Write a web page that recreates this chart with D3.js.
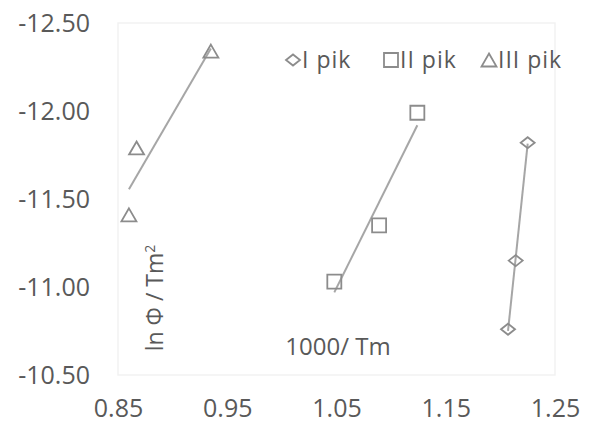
<!DOCTYPE html>
<html>
<head>
<meta charset="utf-8">
<script src="https://cdn.jsdelivr.net/npm/d3@7"></script>
<style>
  body { margin: 0; background: #fff; }
  svg { font-family: "Open Sans", sans-serif; }
</style>
</head>
<body>
<div id="chart"></div>
<script>
const seriesNames = ['I pik', 'II pik', 'III pik'];
const peak1X = [1.207, 1.214, 1.225];
const peak1Y = [-10.76, -11.15, -11.82];
const peak2X = [1.048, 1.089, 1.124];
const peak2Y = [-11.03, -11.35, -11.99];
const peak3X = [0.860, 0.867, 0.935];
const peak3Y = [-11.41, -11.79, -12.34];
const xTicks = [0.85, 0.95, 1.05, 1.15, 1.25];
const yTicks = [-12.5, -12.0, -11.5, -11.0, -10.5];

const width = 606, height = 425;
const margin = { left: 118, right: 51, top: 23, bottom: 50 };

const svg = d3.select('#chart').append('svg')
    .attr('width', width)
    .attr('height', height);

const x = d3.scaleLinear().domain([0.85, 1.25]).range([margin.left, width - margin.right]);
const y = d3.scaleLinear().domain([-12.5, -10.5]).range([margin.top, height - margin.bottom]);

// faint plot border
svg.append('rect')
    .attr('x', x(0.85)).attr('y', y(-12.5))
    .attr('width', x(1.25) - x(0.85)).attr('height', y(-10.5) - y(-12.5))
    .attr('fill', 'none').attr('stroke', '#f2f2f2').attr('stroke-width', 1.5);

const fmt = d => d.toFixed(2);

const yAxis = svg.append('g')
    .attr('transform', `translate(${margin.left - 28},0)`)
    .call(d3.axisLeft(y).tickValues(yTicks).tickFormat(fmt).tickSize(0).tickPadding(0));
const xAxis = svg.append('g')
    .attr('transform', `translate(0,${y(-10.5) + 19})`)
    .call(d3.axisBottom(x).tickValues(xTicks).tickFormat(fmt).tickSize(0).tickPadding(0));
[yAxis, xAxis].forEach(a => {
    a.select('.domain').remove();
    a.selectAll('text')
        .attr('fill', '#595959')
        .style('font-size', '25px')
        .style('font-family', '"Open Sans", sans-serif');
});
xAxis.selectAll('text').attr('dy', '0.9em');

// marker shapes
const diamond = { draw(c, s) { const w = 7, h = 5.5; c.moveTo(-w, 0); c.lineTo(0, -h); c.lineTo(w, 0); c.lineTo(0, h); c.closePath(); } };
const square = { draw(c, s) { const r = 7; c.rect(-r, -r, 2 * r, 2 * r); } };
const triangle = { draw(c, s) { const w = 7.5, h = 6.5; c.moveTo(0, -h); c.lineTo(w, h); c.lineTo(-w, h); c.closePath(); } };

const series = [
    { name: seriesNames[0], xs: peak1X, ys: peak1Y, shape: diamond },
    { name: seriesNames[1], xs: peak2X, ys: peak2Y, shape: square },
    { name: seriesNames[2], xs: peak3X, ys: peak3Y, shape: triangle }
];

function fit(xs, ys) {
    const mx = d3.mean(xs), my = d3.mean(ys);
    const b = d3.sum(xs, (v, i) => (v - mx) * (ys[i] - my)) / d3.sum(xs, v => (v - mx) ** 2);
    return v => my + b * (v - mx);
}

series.forEach(s => {
    const f = fit(s.xs, s.ys);
    const x0 = d3.min(s.xs), x1 = d3.max(s.xs);
    svg.append('line')
        .attr('x1', x(x0)).attr('y1', y(f(x0)))
        .attr('x2', x(x1)).attr('y2', y(f(x1)))
        .attr('stroke', '#a6a6a6').attr('stroke-width', 2);
    svg.append('g').selectAll('path')
        .data(s.xs.map((v, i) => [v, s.ys[i]]))
        .join('path')
        .attr('transform', d => `translate(${x(d[0])},${y(d[1])})`)
        .attr('d', d3.symbol().type(s.shape))
        .attr('fill', 'none')
        .attr('stroke', '#8c8c8c')
        .attr('stroke-width', 1.8);
});

// legend
const legendX = [293, 391, 489];
const legend = svg.append('g').attr('transform', 'translate(0,60)');
series.forEach((s, i) => {
    legend.append('path')
        .attr('transform', `translate(${legendX[i]},0)`)
        .attr('d', d3.symbol().type(s.shape))
        .attr('fill', 'none').attr('stroke', '#8c8c8c').attr('stroke-width', 1.8);
    legend.append('text')
        .attr('x', legendX[i] + 9).attr('dy', '0.35em')
        .attr('fill', '#595959').style('font-size', '23px')
        .style('letter-spacing', '1px')
        .text(s.name);
});

// axis titles
svg.append('text')
    .attr('transform', `translate(163,${298}) rotate(-90)`)
    .attr('text-anchor', 'middle')
    .attr('fill', '#595959').style('font-size', '23px')
    .html('ln Φ / Tm<tspan dy="-8" font-size="14px">2</tspan>');
svg.append('text')
    .attr('x', 338).attr('y', 355)
    .attr('text-anchor', 'middle')
    .attr('fill', '#595959').style('font-size', '24px')
    .text('1000/ Tm');
</script>
</body>
</html>
